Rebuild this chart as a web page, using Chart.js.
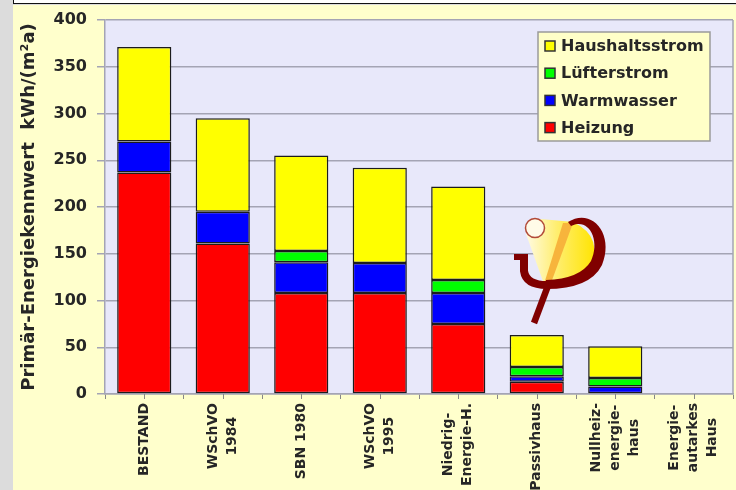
<!DOCTYPE html>
<html>
<head>
<meta charset="utf-8">
<script src="https://cdn.jsdelivr.net/npm/chart.js@4.4.1/dist/chart.umd.min.js"></script>
<style>
  body { margin: 0; background: #dcdcdc; width: 736px; height: 490px; overflow: hidden; position: relative; }
  #top { position: absolute; left: 13px; top: 0; width: 723px; height: 3px; background: #fff; border-left: 1px solid #111; border-bottom: 1px solid #111; }
  #panel { position: absolute; left: 13px; top: 5px; width: 723px; height: 485px; background: #ffffcc; }
  canvas { display: block; }
</style>
</head>
<body>
<div id="top"></div>
<div id="panel"><canvas id="myChart" width="723" height="485"></canvas></div>
<script>
// Data
const categories = ['BESTAND', ['WSchVO', '1984'], 'SBN 1980', ['WSchVO', '1995'],
  ['Niedrig-', 'Energie-H.'], 'Passivhaus', ['Nullheiz-', 'energie-', 'haus'], ['Energie-', 'autarkes', 'Haus']];
const heizung = [237, 161, 108, 108, 75, 13, 0, 0];
const warmwasser = [33, 34, 33, 32, 33, 6, 8, 0];
const luefterstrom = [0, 0, 12, 0, 14, 10, 9, 0];
const haushaltsstrom = [101, 100, 102, 102, 100, 34, 34, 0];
const yMin = 0, yMax = 400, yStep = 50;
const yTitle = 'Primär-Energiekennwert  kWh/(m²a)';

const gridColor = '#a4a4b4';
const textColor = '#262626';
Chart.defaults.font.family = "'DejaVu Sans', sans-serif";

// zero segments are not drawn at all
function nz(arr) { return arr.map(v => v === 0 ? null : v); }

const decor = {
  id: 'decor',
  beforeDraw(chart) {
    const { ctx, chartArea: a } = chart;
    ctx.save();
    ctx.fillStyle = '#e8e8fa';
    ctx.fillRect(a.left, a.top, a.right - a.left, a.bottom - a.top);
    ctx.restore();
  },
  afterDraw(chart) {
    const { ctx, chartArea: a } = chart;
    const xs = chart.scales.x;
    ctx.save();
    // right border of the plot
    ctx.strokeStyle = gridColor;
    ctx.lineWidth = 1.5;
    ctx.beginPath();
    ctx.moveTo(a.right, a.top);
    ctx.lineTo(a.right, a.bottom);
    ctx.stroke();
    // tick marks at category centres
    ctx.lineWidth = 1;
    ctx.strokeStyle = '#888';
    categories.forEach((c, i) => {
      const px = Math.round(xs.getPixelForValue(i)) + 0.5;
      ctx.beginPath();
      ctx.moveTo(px, a.bottom);
      ctx.lineTo(px, a.bottom + 5);
      ctx.stroke();
    });
    // category labels, rotated, lines centred on each other
    ctx.font = 'bold 14px "DejaVu Sans"';
    ctx.fillStyle = textColor;
    ctx.textAlign = 'center';
    ctx.textBaseline = 'middle';
    categories.forEach((c, i) => {
      const lines = Array.isArray(c) ? c : [c];
      const maxW = Math.max(...lines.map(l => ctx.measureText(l).width));
      const cy = a.bottom + 9 + maxW / 2;
      const cx = xs.getPixelForValue(i);
      lines.forEach((l, j) => {
        ctx.save();
        ctx.translate(cx + (j - (lines.length - 1) / 2) * 19, cy);
        ctx.rotate(-Math.PI / 2);
        ctx.fillText(l, 0, 0);
        ctx.restore();
      });
    });
    drawLogo(ctx);
    drawLegend(chart);
    ctx.restore();
  }
};

function drawLogo(ctx) {
  ctx.save();
  // yellow fan
  const g = ctx.createLinearGradient(512, 0, 582, 0);
  g.addColorStop(0, '#fffbe6');
  g.addColorStop(0.45, '#ffee70');
  g.addColorStop(1, '#ffe400');
  ctx.fillStyle = g;
  ctx.beginPath();
  ctx.moveTo(531, 279);
  ctx.lineTo(513, 229);
  ctx.lineTo(528, 214);
  ctx.lineTo(560, 217);
  ctx.quadraticCurveTo(592, 232, 576, 266);
  ctx.quadraticCurveTo(562, 278, 531, 279);
  ctx.closePath();
  ctx.fill();
  // orange stripe
  ctx.fillStyle = '#f7b43c';
  ctx.beginPath();
  ctx.moveTo(550, 218);
  ctx.lineTo(560, 218);
  ctx.lineTo(538, 278);
  ctx.lineTo(531, 279);
  ctx.closePath();
  ctx.fill();
  // circle
  ctx.fillStyle = '#fffbe8';
  ctx.strokeStyle = '#b24a38';
  ctx.lineWidth = 1.5;
  ctx.beginPath();
  ctx.arc(522, 223, 9.5, 0, Math.PI * 2);
  ctx.fill();
  ctx.stroke();
  // dark red crescent on the right
  ctx.fillStyle = '#800000';
  ctx.beginPath();
  ctx.moveTo(555, 217);
  ctx.bezierCurveTo(578, 202, 602, 228, 589, 260);
  ctx.quadraticCurveTo(577, 284, 533, 284);
  ctx.lineTo(533, 275);
  ctx.quadraticCurveTo(567, 274, 578, 256);
  ctx.bezierCurveTo(588, 234, 575, 212, 558, 221);
  ctx.closePath();
  ctx.fill();
  // hook on the left
  ctx.strokeStyle = '#800000';
  ctx.lineWidth = 8;
  ctx.lineCap = 'butt';
  ctx.beginPath();
  ctx.moveTo(511, 251);
  ctx.lineTo(511, 266);
  ctx.quadraticCurveTo(513, 280, 534, 280);
  ctx.stroke();
  ctx.fillRect(501, 249, 14, 6);
  // tail
  ctx.lineWidth = 6.5;
  ctx.beginPath();
  ctx.moveTo(536, 278);
  ctx.lineTo(521, 318);
  ctx.stroke();
  ctx.restore();
}

function drawLegend(chart) {
  const { ctx, chartArea: a } = chart;
  const bx = a.left + 433, by = a.top + 12, bw = 172, bh = 109;
  ctx.save();
  ctx.fillStyle = '#ffffc8';
  ctx.fillRect(bx, by, bw, bh);
  ctx.strokeStyle = '#9a9a9a';
  ctx.lineWidth = 1.5;
  ctx.strokeRect(bx, by, bw, bh);
  ctx.font = 'bold 16px "DejaVu Sans"';
  ctx.textBaseline = 'middle';
  ctx.textAlign = 'left';
  const ds = chart.data.datasets.slice().reverse();
  ds.forEach((d, k) => {
    const ry = by + 14 + k * 27.2;
    ctx.fillStyle = d.backgroundColor;
    ctx.fillRect(bx + 7, ry - 5, 10, 10);
    ctx.strokeStyle = '#333';
    ctx.lineWidth = 1.5;
    ctx.strokeRect(bx + 7, ry - 5, 10, 10);
    ctx.fillStyle = textColor;
    ctx.fillText(d.label, bx + 23, ry + 1);
  });
  ctx.restore();
}

const ctx = document.getElementById('myChart').getContext('2d');
new Chart(ctx, {
  type: 'bar',
  data: {
    labels: categories,
    datasets: [
      { label: 'Heizung', data: nz(heizung), backgroundColor: '#ff0000' },
      { label: 'Warmwasser', data: nz(warmwasser), backgroundColor: '#0000ff' },
      { label: 'Lüfterstrom', data: nz(luefterstrom), backgroundColor: '#00ff00' },
      { label: 'Haushaltsstrom', data: nz(haushaltsstrom), backgroundColor: '#ffff00' }
    ].map(d => Object.assign(d, {
      borderColor: '#1c1c1c',
      borderWidth: 1.5,
      borderSkipped: false,
      categoryPercentage: 1,
      barPercentage: 0.69
    }))
  },
  options: {
    responsive: false,
    animation: false,
    layout: { padding: { top: 15, right: 3, left: 0, bottom: 0 } },
    scales: {
      x: {
        stacked: true,
        ticks: { display: false },
        grid: { offset: true, drawOnChartArea: false, tickLength: 5, color: '#888' },
        border: { color: gridColor, width: 1.5 },
        afterFit(scale) { scale.height = 96; }
      },
      y: {
        stacked: true,
        min: yMin,
        max: yMax,
        ticks: { stepSize: yStep, padding: 10, color: textColor, font: { size: 16, weight: 'bold' } },
        grid: { color: gridColor, lineWidth: 1.5, tickLength: 8 },
        border: { color: gridColor, width: 1.5 },
        title: {
          display: true,
          text: yTitle,
          color: textColor,
          font: { size: 18, weight: 'bold' },
          padding: { top: 6, bottom: 0 }
        },
        afterFit(scale) {
          scale.width = 92;
          scale.paddingTop = 0;
          scale.paddingBottom = 0;
        }
      }
    },
    plugins: {
      legend: { display: false },
      tooltip: { enabled: false }
    }
  },
  plugins: [decor]
});
</script>
</body>
</html>
